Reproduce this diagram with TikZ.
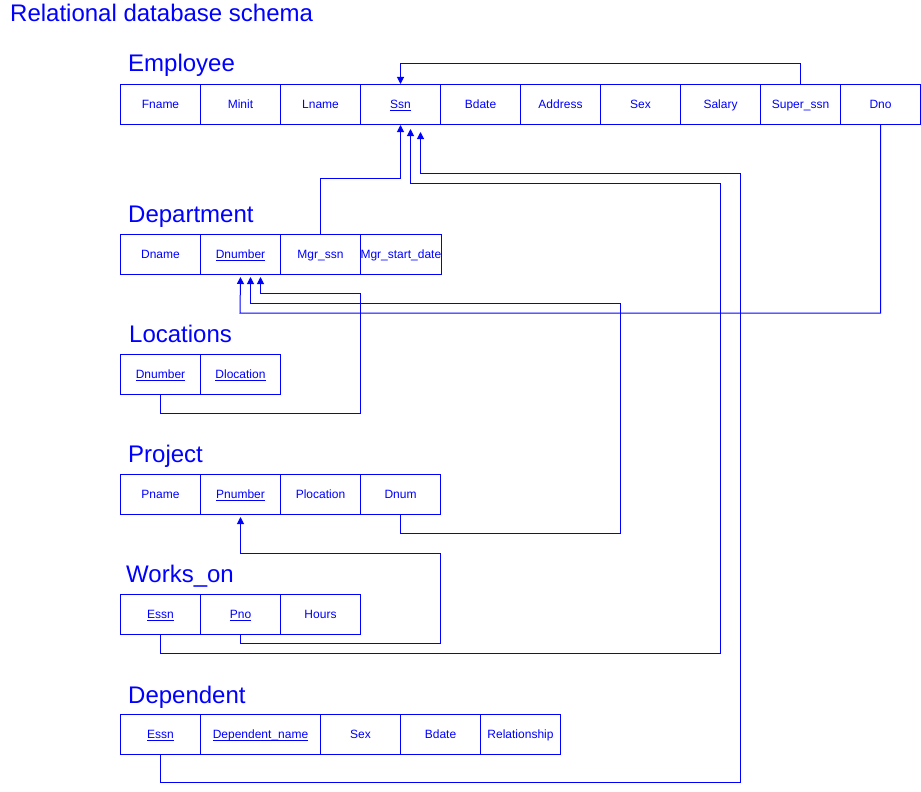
\documentclass[tikz,border=0pt]{standalone}
\usepackage{fontspec}
\setmainfont{Liberation Sans}
\usetikzlibrary{arrows.meta}
\newcommand\keyul[1]{{\setbox0\hbox{#1}\rlap{\rule[-2pt]{\wd0}{0.8pt}}\box0}}
\begin{document}
\begin{tikzpicture}[x=1pt,y=-1pt,
  cell/.style={draw=blue, line width=1pt, text=blue, minimum width=80pt, minimum height=40pt, inner sep=0pt, text height=10pt, text depth=2pt, anchor=north west, font=\fontsize{12}{14}\selectfont},
  ttl/.style={text=blue, anchor=base west, inner sep=0pt, font=\fontsize{24}{28}\selectfont},
  fk/.style={draw=blue, line width=1pt, -{Triangle[length=7pt,width=7pt]}}]
\useasboundingbox (0,0) rectangle (921,792);

\node[ttl] (title) at (10,22) {Relational database schema};

% Employee
\node[ttl] (tEmp) at (128,72) {Employee};
\node[cell] (eFname) at (120,84) {Fname};
\node[cell] (eMinit) at (200,84) {Minit};
\node[cell] (eLname) at (280,84) {Lname};
\node[cell] (eSsn) at (360,84) {\keyul{Ssn}};
\node[cell] (eBdate) at (440,84) {Bdate};
\node[cell] (eAddress) at (520,84) {Address};
\node[cell] (eSex) at (600,84) {Sex};
\node[cell] (eSalary) at (680,84) {Salary};
\node[cell] (eSuper) at (760,84) {Super\_ssn};
\node[cell] (eDno) at (840,84) {Dno};

% Department
\node[ttl] (tDep) at (128,222) {Department};
\node[cell] (dDname) at (120,234) {Dname};
\node[cell] (dDnumber) at (200,234) {\keyul{Dnumber}};
\node[cell] (dMgr) at (280,234) {Mgr\_ssn};
\node[cell] (dStart) at (360,234) {Mgr\_start\_date};

% Locations
\node[ttl] (tLoc) at (129,342) {Locations};
\node[cell] (lDnumber) at (120,354) {\keyul{Dnumber}};
\node[cell] (lDlocation) at (200,354) {\keyul{Dlocation}};

% Project
\node[ttl] (tProj) at (128,462) {Project};
\node[cell] (pPname) at (120,474) {Pname};
\node[cell] (pPnumber) at (200,474) {\keyul{Pnumber}};
\node[cell] (pPlocation) at (280,474) {Plocation};
\node[cell] (pDnum) at (360,474) {Dnum};

% Works_on
\node[ttl] (tWorks) at (126,582) {Works\_on};
\node[cell] (wEssn) at (120,594) {\keyul{Essn}};
\node[cell] (wPno) at (200,594) {\keyul{Pno}};
\node[cell] (wHours) at (280,594) {Hours};

% Dependent
\node[ttl] (tDepd) at (128,703) {Dependent};
\node[cell] (xEssn) at (120,714) {\keyul{Essn}};
\node[cell, minimum width=120pt] (xName) at (200,714) {\keyul{Dependent\_name}};
\node[cell] (xSex) at (320,714) {Sex};
\node[cell] (xBdate) at (400,714) {Bdate};
\node[cell] (xRel) at (480,714) {Relationship};

% Foreign keys
\draw[fk] (eSuper.north) -- ++(0,-20) -| (eSsn.north);
\draw[fk] (dMgr.north) -- ++(0,-56) -| (eSsn.south);
\draw[fk] (wEssn.south) |- (720,653) -- (720,183) -| ([xshift=10pt,yshift=-4pt]eSsn.south);
\draw[fk] (xEssn.south) |- (740,782) -- (740,173) -| ([xshift=20pt,yshift=-7pt]eSsn.south);
\draw[fk] (eDno.south) |- (240,313) -- ([yshift=-2pt]dDnumber.south);
\draw[fk] (pDnum.south) |- (620,533) -- (620,303) -| ([xshift=10pt,yshift=-2pt]dDnumber.south);
\draw[fk] (lDnumber.south) |- (360,413) -- (360,293) -| ([xshift=20pt,yshift=-2pt]dDnumber.south);
\draw[fk] (wPno.south) |- (440,643) -- (440,553) -| ([yshift=-2pt]pPnumber.south);
\end{tikzpicture}
\end{document}
